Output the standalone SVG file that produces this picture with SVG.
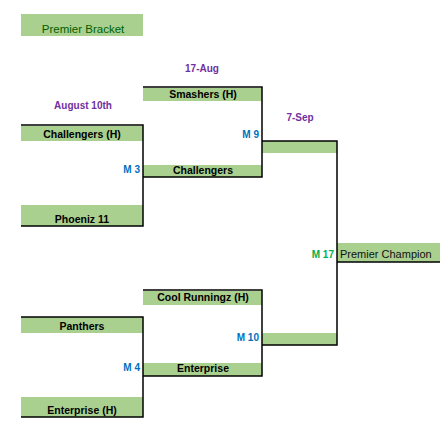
<svg xmlns="http://www.w3.org/2000/svg" width="440" height="443" viewBox="0 0 440 443">
<style>
.cell{fill:#A9D08E}
.team{font-family:"Liberation Sans",Arial,sans-serif;font-weight:bold;font-size:10.5px;fill:#000;text-anchor:middle}
.date{font-family:"Liberation Sans",Arial,sans-serif;font-weight:bold;font-size:10px;fill:#7030A0;text-anchor:middle}
.mlab{font-family:"Liberation Sans",Arial,sans-serif;font-weight:bold;font-size:10px;fill:#0070C0;text-anchor:end}
.line{fill:none;stroke:#000;stroke-width:1.5}
</style>
<rect width="440" height="443" fill="#fff"/>
<g id="title">
<rect class="cell" x="21" y="14" width="122" height="22"/>
<text x="83" y="33" font-family="Liberation Sans,Arial,sans-serif" font-size="11.5" fill="#006100" text-anchor="middle">Premier Bracket</text>
</g>
<g id="dates">
<text class="date" x="83" y="109">August 10th</text>
<text class="date" x="202" y="71.5">17-Aug</text>
<text class="date" x="300" y="121">7-Sep</text>
</g>
<g id="challengers-h">
<rect class="cell" x="21" y="126" width="122" height="15"/>
<text class="team" x="82" y="137.5">Challengers (H)</text>
</g>
<g id="phoenix">
<rect class="cell" x="21" y="205" width="122" height="21"/>
<text class="team" x="82" y="222.5">Phoeniz 11</text>
</g>
<g id="smashers">
<rect class="cell" x="143" y="88" width="119" height="13"/>
<text class="team" x="203" y="98">Smashers (H)</text>
</g>
<g id="m3">
<rect class="cell" x="143" y="165" width="119" height="12"/>
<text class="mlab" x="140" y="172.5">M 3</text>
<text class="team" x="203" y="174">Challengers</text>
</g>
<g id="m9">
<rect class="cell" x="262" y="141" width="75" height="12"/>
<text class="mlab" x="259" y="137.5">M 9</text>
</g>
<g id="m17">
<rect class="cell" x="337" y="243" width="103" height="19"/>
<text class="mlab" x="334" y="258" style="fill:#00B050">M 17</text>
<text x="340" y="258" font-family="Liberation Sans,Arial,sans-serif" font-size="11" fill="#111">Premier Champion</text>
</g>
<g id="cool-runningz">
<rect class="cell" x="143" y="291" width="119" height="14"/>
<text class="team" x="203" y="301">Cool Runningz (H)</text>
</g>
<g id="m10">
<rect class="cell" x="262" y="333" width="75" height="12"/>
<text class="mlab" x="259" y="340.5">M 10</text>
</g>
<g id="panthers">
<rect class="cell" x="21" y="317" width="122" height="16"/>
<text class="team" x="82" y="329.5">Panthers</text>
</g>
<g id="m4">
<rect class="cell" x="143" y="363" width="119" height="13"/>
<text class="mlab" x="140" y="370.5">M 4</text>
<text class="team" x="203" y="372">Enterprise</text>
</g>
<g id="enterprise-h">
<rect class="cell" x="21" y="397" width="122" height="20"/>
<text class="team" x="82" y="413.5">Enterprise (H)</text>
</g>
<g id="connectors">
<path class="line" d="M21 125H143V226H21"/>
<path class="line" d="M143 87H262V177H143"/>
<path class="line" d="M262 141H337V345H262"/>
<path class="line" d="M337 262H440"/>
<path class="line" d="M143 290H262V376H143"/>
<path class="line" d="M21 317H143V417H21"/>
</g>
</svg>
